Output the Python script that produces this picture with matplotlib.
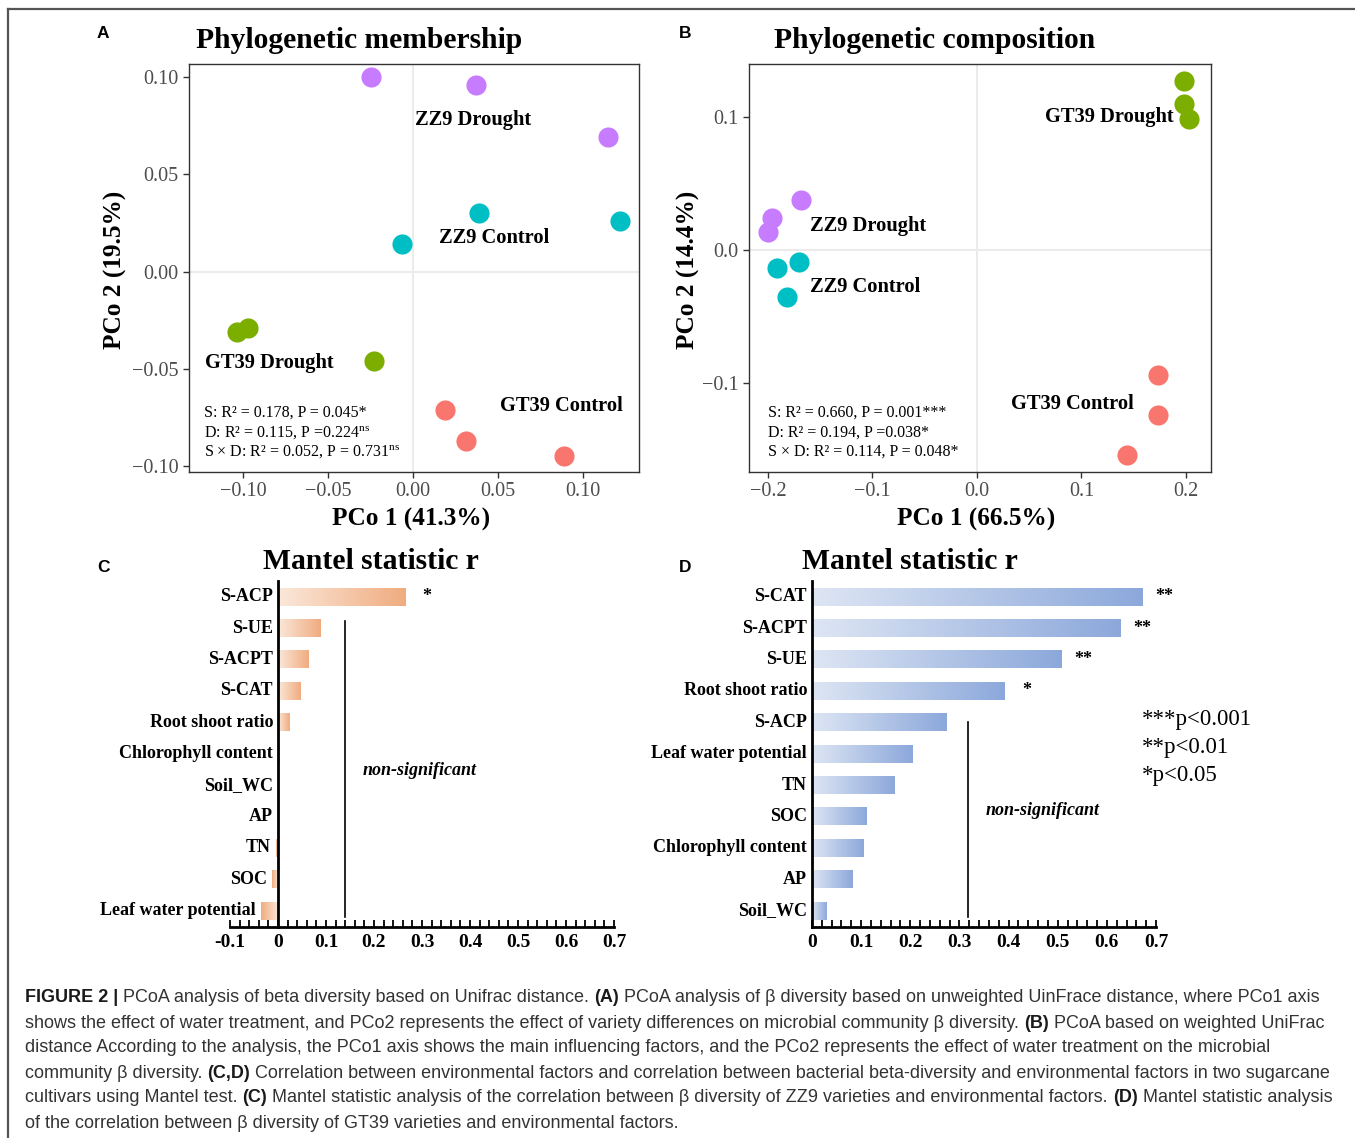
import numpy as np
import matplotlib.pyplot as plt
from matplotlib.colors import LinearSegmentedColormap
from matplotlib.lines import Line2D
from matplotlib.transforms import offset_copy

plt.rcParams['font.family'] = 'Liberation Serif'
plt.rcParams['mathtext.fontset'] = 'custom'
plt.rcParams['mathtext.rm'] = 'Liberation Serif'
plt.rcParams['mathtext.it'] = 'Liberation Serif:italic'

# ---- data ----
groups = ['ZZ9 Drought', 'ZZ9 Control', 'GT39 Drought', 'GT39 Control']
group_colors = ['#C77CFF', '#00BFC4', '#7CAE00', '#F8766D']

# A: unweighted (membership)
memb_pc1 = [[-0.025, 0.037, 0.115], [-0.0065, 0.039, 0.122],
            [-0.104, -0.097, -0.023], [0.019, 0.031, 0.089]]
memb_pc2 = [[0.100, 0.096, 0.069], [0.014, 0.030, 0.026],
            [-0.031, -0.029, -0.046], [-0.071, -0.087, -0.095]]
memb_stats = ['S: R² = 0.178, P = 0.045*',
              r'D: R² = 0.115, P =0.224$^{\mathrm{ns}}$',
              r'S × D: R² = 0.052, P = 0.731$^{\mathrm{ns}}$']

# B: weighted (composition)
comp_pc1 = [[-0.168, -0.196, -0.200], [-0.191, -0.170, -0.182],
            [0.198, 0.198, 0.203], [0.173, 0.173, 0.1435]]
comp_pc2 = [[0.038, 0.024, 0.0135], [-0.0135, -0.009, -0.035],
            [0.127, 0.110, 0.0985], [-0.094, -0.124, -0.154]]
comp_stats = ['S: R² = 0.660, P = 0.001***',
              'D: R² = 0.194, P =0.038*',
              'S × D: R² = 0.114, P = 0.048*']

# C: Mantel r, ZZ9
zz9_factors = ['S-ACP', 'S-UE', 'S-ACPT', 'S-CAT', 'Root shoot ratio',
               'Chlorophyll content', 'Soil_WC', 'AP', 'TN', 'SOC',
               'Leaf water potential']
zz9_r = [0.265, 0.089, 0.064, 0.047, 0.023, 0.004, 0.001, 0.0, -0.004, -0.013, -0.036]
zz9_sig = ['*', '', '', '', '', '', '', '', '', '', '']

# D: Mantel r, GT39
gt39_factors = ['S-CAT', 'S-ACPT', 'S-UE', 'Root shoot ratio', 'S-ACP',
                'Leaf water potential', 'TN', 'SOC', 'Chlorophyll content',
                'AP', 'Soil_WC']
gt39_r = [0.672, 0.627, 0.507, 0.392, 0.274, 0.205, 0.167, 0.111, 0.104, 0.082, 0.029]
gt39_sig = ['**', '**', '**', '*', '', '', '', '', '', '', '']

W, H = 1355, 1138
fig = plt.figure(figsize=(W / 100, H / 100), dpi=100)


def fx(px):
    return px / W


def fy(py):
    return 1 - py / H


def pcoa_panel(rect, pc1, pc2, xlim, ylim, xticks, xlabs, yticks, ylabs,
               label_pos, stats, stats_x):
    ax = fig.add_axes(rect)
    ax.axvline(0, color='#EBEBEB', lw=1.5, zorder=0)
    ax.axhline(0, color='#EBEBEB', lw=1.5, zorder=0)
    for i in range(len(groups)):
        ax.scatter(pc1[i], pc2[i], s=210, color=group_colors[i], lw=0, zorder=3)
        ax.text(label_pos[i][0], label_pos[i][1], groups[i], ha='center', va='center',
                fontsize=14.8, fontweight='bold', zorder=4)
    ax.set_xlim(xlim)
    ax.set_ylim(ylim)
    ax.set_xticks(xticks)
    ax.set_xticklabels(xlabs)
    ax.set_yticks(yticks)
    ax.set_yticklabels(ylabs)
    ax.tick_params(labelsize=14.5, labelcolor='#4D4D4D', color='#333333',
                   length=4, width=1)
    for s in ax.spines.values():
        s.set_color('#333333')
        s.set_linewidth(1)
    for k, t in enumerate(stats):
        ax.text(stats_x, [0.145, 0.096, 0.049][k], t, transform=ax.transAxes,
                fontsize=11.5, va='center', ha='left')
    return ax


# ---- A ----
axA = pcoa_panel([fx(189), fy(472), fx(450), (472 - 64) / H],
                 memb_pc1, memb_pc2, (-0.132, 0.133), (-0.103, 0.1067),
                 [-0.10, -0.05, 0, 0.05, 0.10], ['\u22120.10', '\u22120.05', '0.00', '0.05', '0.10'],
                 [-0.10, -0.05, 0, 0.05, 0.10], ['\u22120.10', '\u22120.05', '0.00', '0.05', '0.10'],
                 [(0.035, 0.078), (0.048, 0.0175), (-0.0847, -0.0468), (0.0876, -0.0689)],
                 memb_stats, 0.033)

# ---- B ----
axB = pcoa_panel([fx(749), fy(472), fx(462), (472 - 64) / H],
                 comp_pc1, comp_pc2, (-0.218, 0.224), (-0.167, 0.140),
                 [-0.2, -0.1, 0, 0.1, 0.2], ['\u22120.2', '\u22120.1', '0.0', '0.1', '0.2'],
                 [-0.1, 0, 0.1], ['\u22120.1', '0.0', '0.1'],
                 [(-0.104, 0.018), (-0.107, -0.028), (0.127, 0.100), (0.091, -0.116)],
                 comp_stats, 0.041)

fig.text(fx(359), fy(41), 'Phylogenetic membership', ha='center', va='center',
         fontsize=21.3, fontweight='bold')
fig.text(fx(935), fy(41), 'Phylogenetic composition', ha='center', va='center',
         fontsize=21.3, fontweight='bold')
fig.text(fx(411), fy(519), 'PCo 1 (41.3%)', ha='center', va='center', fontsize=18.2, fontweight='bold')
fig.text(fx(976), fy(519), 'PCo 1 (66.5%)', ha='center', va='center', fontsize=18.2, fontweight='bold')
fig.text(fx(115), fy(270), 'PCo 2 (19.5%)', ha='center', va='center', rotation=90,
         fontsize=18.2, fontweight='bold')
fig.text(fx(688), fy(270), 'PCo 2 (14.4%)', ha='center', va='center', rotation=90,
         fontsize=18.2, fontweight='bold')


# ---- Mantel panels ----
def mantel_panel(rect, factors, r, sig, xlim, cmap, ns_x, ns_rows, ns_text_xy):
    ax = fig.add_axes(rect)
    ax.spines['left'].set_position(('data', 0))
    n = len(factors)
    grad = np.linspace(0, 1, 256).reshape(1, -1)
    bh = 0.57
    lab_tr = offset_copy(ax.transData, fig=fig, x=-5, y=0, units='dots')
    for i, v in enumerate(r):
        if v != 0:
            ax.imshow(grad, extent=(0, v, i + bh / 2, i - bh / 2), cmap=cmap,
                      aspect='auto', interpolation='bilinear', zorder=2)
        if sig[i]:
            ax.text(v + 0.045, i, sig[i], ha='center', va='center', fontsize=13,
                    fontweight='bold', clip_on=False)
        ax.text(min(v, 0), i, factors[i], transform=lab_tr, ha='right', va='center',
                fontsize=13, fontweight='bold', clip_on=False)
    ax.set_xlim(xlim)
    ax.set_ylim(n - 0.48, -0.5)
    ax.set_yticks([])
    xt = np.arange(np.ceil(xlim[0] * 10) / 10, xlim[1] + 0.001, 0.1)
    ax.set_xticks(xt)
    ax.set_xticklabels(['%g' % round(t, 1) for t in xt], fontsize=14, fontweight='bold')
    ax.set_xticks(np.arange(xlim[0], xlim[1] + 0.001, 0.02), minor=True)
    ax.tick_params(axis='x', which='both', direction='in', length=5, width=1.3, pad=5)
    ax.spines['left'].set_linewidth(2)
    ax.spines['bottom'].set_linewidth(2)
    ax.spines['top'].set_visible(False)
    ax.spines['right'].set_visible(False)
    ax.plot([ns_x, ns_x], ns_rows, color='black', lw=1.2)
    ax.text(ns_text_xy[0], ns_text_xy[1], 'non-significant', ha='center', va='center',
            fontsize=13, fontweight='bold', style='italic')
    return ax


cmapC = LinearSegmentedColormap.from_list('c', ['#FBE8DA', '#F0AC80'])
cmapD = LinearSegmentedColormap.from_list('d', ['#DEE6F4', '#8CA8DB'])

axC = mantel_panel([fx(230), fy(927), fx(384), (927 - 581) / H],
                   zz9_factors, zz9_r, zz9_sig, (-0.1, 0.7), cmapC,
                   0.139, [0.76, 10.2], (0.296, 5.52))
axD = mantel_panel([fx(812), fy(927), fx(344), (927 - 581) / H],
                   gt39_factors, gt39_r, gt39_sig, (0.0, 0.7), cmapD,
                   0.317, [4.0, 10.2], (0.47, 6.82))

fig.text(fx(371), fy(561), 'Mantel statistic r', ha='center', va='center',
         fontsize=21.3, fontweight='bold')
fig.text(fx(910), fy(561), 'Mantel statistic r', ha='center', va='center',
         fontsize=21.3, fontweight='bold')
for k, t in enumerate(['***p<0.001', '**p<0.01', '*p<0.05']):
    fig.text(fx(1142), fy([720, 747, 775][k]), t, ha='left', va='center', fontsize=16.5)

# panel letters
for lab, (px, py) in zip('ABCD', [(103, 34), (685, 34), (103, 567), (685, 567)]):
    fig.text(fx(px), fy(py), lab, ha='center', va='center', fontsize=12.5,
             fontweight='bold', family='Liberation Sans')

# frame (top & left edges)
fig.add_artist(Line2D([fx(8), 1], [fy(9), fy(9)], color='#555555', lw=1.6))
fig.add_artist(Line2D([fx(8), fx(8)], [fy(9), 0], color='#555555', lw=1.6))

# ---- caption ----
caption = [
    [('FIGURE 2 | ', True), ('PCoA analysis of beta diversity based on Unifrac distance. ', False),
     ('(A)', True), (' PCoA analysis of β diversity based on unweighted UinFrace distance, where PCo1 axis', False)],
    [('shows the effect of water treatment, and PCo2 represents the effect of variety differences on microbial community β diversity. ', False),
     ('(B)', True), (' PCoA based on weighted UniFrac', False)],
    [('distance According to the analysis, the PCo1 axis shows the main influencing factors, and the PCo2 represents the effect of water treatment on the microbial', False)],
    [('community β diversity. ', False), ('(C,D)', True),
     (' Correlation between environmental factors and correlation between bacterial beta-diversity and environmental factors in two sugarcane', False)],
    [('cultivars using Mantel test. ', False), ('(C)', True),
     (' Mantel statistic analysis of the correlation between β diversity of ZZ9 varieties and environmental factors. ', False),
     ('(D)', True), (' Mantel statistic analysis', False)],
    [('of the correlation between β diversity of GT39 varieties and environmental factors.', False)],
]

renderer = fig.canvas.get_renderer()


def draw_line(segs, y, size, draw=True):
    x = fx(25)
    arts = []
    for txt, bold in segs:
        t = fig.text(x, y, txt, ha='left', va='center', fontsize=size,
                     family='Liberation Sans', fontweight='bold' if bold else 'normal',
                     color='#1a1a1a' if bold else '#333333')
        w = t.get_window_extent(renderer).width
        x += w / W
        arts.append(t)
    if not draw:
        for a in arts:
            a.remove()
    return x * W - 25


w0 = draw_line(caption[0], 0.5, 12, draw=False)
cap_size = 12 * 1296 / w0
for k, segs in enumerate(caption):
    draw_line(segs, fy(998 + 25 * k), cap_size)

fig.savefig('out.png', dpi=100)
